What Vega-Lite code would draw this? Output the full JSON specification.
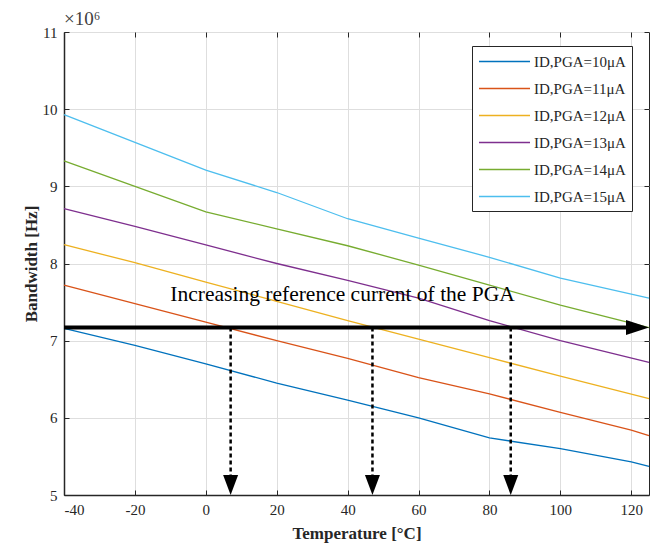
{
  "$schema": "https://vega.github.io/schema/vega-lite/v6.json",
  "width": 585,
  "height": 463,
  "autosize": {"type": "none"},
  "padding": {"left": 64, "top": 32, "right": 2, "bottom": 60},
  "title": {"text": "×10⁶", "anchor": "start", "frame": "group", "font": "Liberation Serif", "fontSize": 19, "fontWeight": "normal", "color": "#404040", "offset": -4},
  "config": {
    "font": "Liberation Serif",
    "view": {"stroke": "#262626", "strokeWidth": 1},
    "axis": {
      "labelFont": "Liberation Serif", "labelFontSize": 15, "labelColor": "#262626",
      "titleFont": "Liberation Serif", "titleFontSize": 17, "titleFontWeight": "bold", "titleColor": "#262626",
      "domainColor": "#262626", "domainWidth": 1.5, "tickColor": "#262626", "tickSize": -5,
      "gridColor": "#dedede", "gridWidth": 1
    },
    "legend": {
      "orient": "none", "legendX": 408, "legendY": 14,
      "strokeColor": "#262626", "fillColor": "white", "padding": 6,
      "symbolType": "M-3,0 L3,0", "symbolSize": 289, "symbolStrokeWidth": 1.5, "symbolOffset": 17,
      "labelFont": "Liberation Serif", "labelFontSize": 15, "labelColor": "#262626",
      "rowPadding": 9, "labelOffset": 20
    }
  },
  "datasets": {
    "curves": [
      {"series": "ID,PGA=10μA", "temp": -40, "bw": 7160000},
      {"series": "ID,PGA=10μA", "temp": -20, "bw": 6940000},
      {"series": "ID,PGA=10μA", "temp": 0, "bw": 6700000},
      {"series": "ID,PGA=10μA", "temp": 20, "bw": 6450000},
      {"series": "ID,PGA=10μA", "temp": 40, "bw": 6230000},
      {"series": "ID,PGA=10μA", "temp": 60, "bw": 6000000},
      {"series": "ID,PGA=10μA", "temp": 80, "bw": 5740000},
      {"series": "ID,PGA=10μA", "temp": 100, "bw": 5600000},
      {"series": "ID,PGA=10μA", "temp": 120, "bw": 5430000},
      {"series": "ID,PGA=10μA", "temp": 125, "bw": 5370000},
      {"series": "ID,PGA=11μA", "temp": -40, "bw": 7720000},
      {"series": "ID,PGA=11μA", "temp": -20, "bw": 7480000},
      {"series": "ID,PGA=11μA", "temp": 0, "bw": 7240000},
      {"series": "ID,PGA=11μA", "temp": 20, "bw": 7000000},
      {"series": "ID,PGA=11μA", "temp": 40, "bw": 6770000},
      {"series": "ID,PGA=11μA", "temp": 60, "bw": 6520000},
      {"series": "ID,PGA=11μA", "temp": 80, "bw": 6310000},
      {"series": "ID,PGA=11μA", "temp": 100, "bw": 6070000},
      {"series": "ID,PGA=11μA", "temp": 120, "bw": 5840000},
      {"series": "ID,PGA=11μA", "temp": 125, "bw": 5770000},
      {"series": "ID,PGA=12μA", "temp": -40, "bw": 8245000},
      {"series": "ID,PGA=12μA", "temp": -20, "bw": 8010000},
      {"series": "ID,PGA=12μA", "temp": 0, "bw": 7760000},
      {"series": "ID,PGA=12μA", "temp": 20, "bw": 7510000},
      {"series": "ID,PGA=12μA", "temp": 40, "bw": 7260000},
      {"series": "ID,PGA=12μA", "temp": 60, "bw": 7020000},
      {"series": "ID,PGA=12μA", "temp": 80, "bw": 6780000},
      {"series": "ID,PGA=12μA", "temp": 100, "bw": 6540000},
      {"series": "ID,PGA=12μA", "temp": 125, "bw": 6250000},
      {"series": "ID,PGA=13μA", "temp": -40, "bw": 8710000},
      {"series": "ID,PGA=13μA", "temp": -20, "bw": 8480000},
      {"series": "ID,PGA=13μA", "temp": 0, "bw": 8240000},
      {"series": "ID,PGA=13μA", "temp": 20, "bw": 8000000},
      {"series": "ID,PGA=13μA", "temp": 40, "bw": 7780000},
      {"series": "ID,PGA=13μA", "temp": 60, "bw": 7550000},
      {"series": "ID,PGA=13μA", "temp": 80, "bw": 7260000},
      {"series": "ID,PGA=13μA", "temp": 100, "bw": 7000000},
      {"series": "ID,PGA=13μA", "temp": 125, "bw": 6720000},
      {"series": "ID,PGA=14μA", "temp": -40, "bw": 9330000},
      {"series": "ID,PGA=14μA", "temp": -20, "bw": 9000000},
      {"series": "ID,PGA=14μA", "temp": 0, "bw": 8670000},
      {"series": "ID,PGA=14μA", "temp": 20, "bw": 8450000},
      {"series": "ID,PGA=14μA", "temp": 40, "bw": 8230000},
      {"series": "ID,PGA=14μA", "temp": 60, "bw": 7980000},
      {"series": "ID,PGA=14μA", "temp": 80, "bw": 7720000},
      {"series": "ID,PGA=14μA", "temp": 100, "bw": 7460000},
      {"series": "ID,PGA=14μA", "temp": 125, "bw": 7170000},
      {"series": "ID,PGA=15μA", "temp": -40, "bw": 9930000},
      {"series": "ID,PGA=15μA", "temp": -20, "bw": 9570000},
      {"series": "ID,PGA=15μA", "temp": 0, "bw": 9210000},
      {"series": "ID,PGA=15μA", "temp": 20, "bw": 8920000},
      {"series": "ID,PGA=15μA", "temp": 40, "bw": 8580000},
      {"series": "ID,PGA=15μA", "temp": 60, "bw": 8330000},
      {"series": "ID,PGA=15μA", "temp": 80, "bw": 8080000},
      {"series": "ID,PGA=15μA", "temp": 100, "bw": 7810000},
      {"series": "ID,PGA=15μA", "temp": 125, "bw": 7550000}
    ],
    "drops": [
      {"temp": 7, "top": 7170000, "bottom": 5000000},
      {"temp": 47, "top": 7170000, "bottom": 5000000},
      {"temp": 86, "top": 7170000, "bottom": 5000000}
    ],
    "mainArrow": [
      {"start": -40, "end": 125, "bw": 7170000}
    ],
    "note": [
      {"temp": -10, "bw": 7520000, "label": "Increasing reference current of the PGA"}
    ]
  },
  "layer": [
    {
      "data": {"name": "curves"},
      "mark": {"type": "line", "strokeWidth": 1.3},
      "encoding": {
        "x": {"field": "temp", "type": "quantitative",
              "scale": {"domain": [-40, 125], "nice": false, "zero": false},
              "axis": {"title": "Temperature [°C]", "values": [-40, -20, 0, 20, 40, 60, 80, 100, 120], "labelExpr": "'' + datum.value", "labelPadding": 12, "titlePadding": 8}},
        "y": {"field": "bw", "type": "quantitative",
              "scale": {"domain": [5000000, 11000000], "nice": false, "zero": false},
              "axis": {"title": "Bandwidth [Hz]", "values": [5000000, 6000000, 7000000, 8000000, 9000000, 10000000, 11000000], "labelExpr": "'' + round(datum.value / 1000000)", "labelPadding": 12, "titlePadding": 2}},
        "color": {"field": "series", "type": "nominal",
                  "scale": {"range": ["#0072BD", "#D95319", "#EDB120", "#7E2F8E", "#77AC30", "#4DBEEE"]},
                  "legend": {"title": null}}
      }
    },
    {
      "data": {"name": "drops"},
      "mark": {"type": "rule", "color": "black", "strokeWidth": 2.5, "strokeDash": [4, 3], "y2Offset": -16},
      "encoding": {
        "x": {"field": "temp", "type": "quantitative",
              "axis": {"orient": "top", "labels": false, "title": null, "grid": false, "domain": false, "values": [-40, -20, 0, 20, 40, 60, 80, 100, 120]}},
        "y": {"field": "top", "type": "quantitative",
              "axis": {"orient": "right", "labels": false, "title": null, "grid": false, "domain": false, "values": [5000000, 6000000, 7000000, 8000000, 9000000, 10000000, 11000000]}},
        "y2": {"field": "bottom"}
      }
    },
    {
      "data": {"name": "drops"},
      "mark": {"type": "point", "shape": "M0,0 L-0.75,-2 L0.75,-2 Z", "size": 400, "filled": true, "color": "black", "opacity": 1},
      "encoding": {
        "x": {"field": "temp", "type": "quantitative", "axis": null},
        "y": {"field": "bottom", "type": "quantitative", "axis": null}
      }
    },
    {
      "data": {"name": "mainArrow"},
      "mark": {"type": "rule", "color": "black", "strokeWidth": 4, "x2Offset": -10},
      "encoding": {
        "x": {"field": "start", "type": "quantitative", "axis": null},
        "x2": {"field": "end"},
        "y": {"field": "bw", "type": "quantitative", "axis": null}
      }
    },
    {
      "data": {"name": "mainArrow"},
      "mark": {"type": "point", "shape": "M0,0 L-2.3,-0.75 L-2.3,0.75 Z", "size": 400, "filled": true, "color": "black", "opacity": 1},
      "encoding": {
        "x": {"field": "end", "type": "quantitative", "axis": null},
        "y": {"field": "bw", "type": "quantitative", "axis": null}
      }
    },
    {
      "data": {"name": "note"},
      "mark": {"type": "text", "align": "left", "baseline": "alphabetic", "font": "Liberation Serif", "fontSize": 21.5, "color": "black"},
      "encoding": {
        "x": {"field": "temp", "type": "quantitative", "axis": null},
        "y": {"field": "bw", "type": "quantitative", "axis": null},
        "text": {"field": "label"}
      }
    }
  ],
  "resolve": {"axis": {"x": "independent", "y": "independent"}}
}
